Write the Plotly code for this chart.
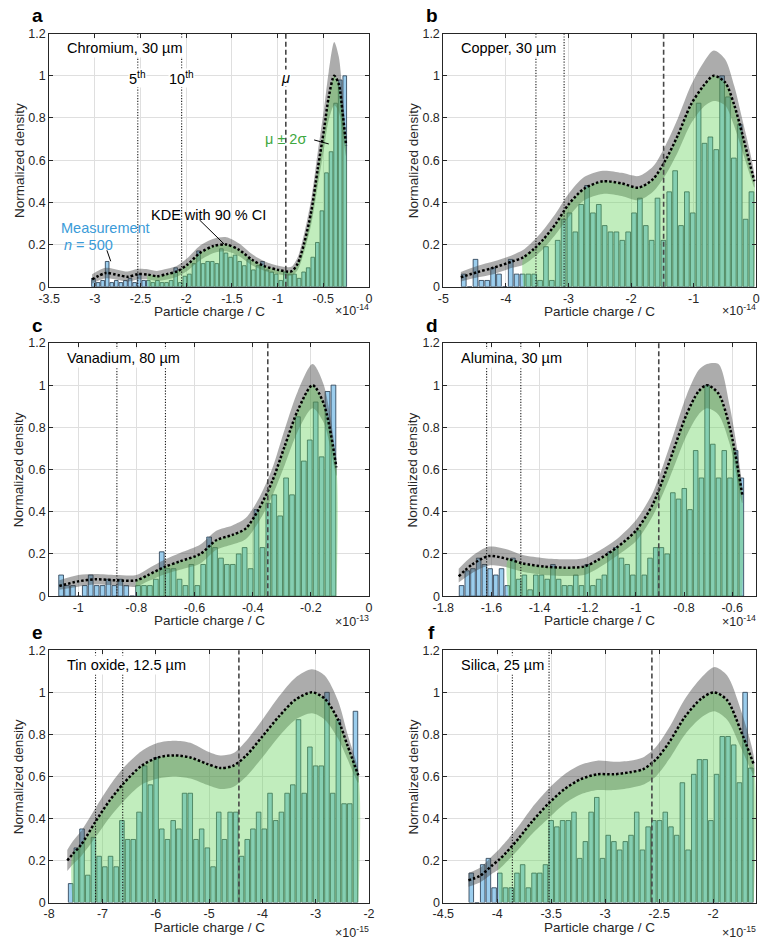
import numpy as np
import plotly.graph_objects as go

W, H = 774, 944
FONT = "Liberation Sans, Arial, Helvetica, sans-serif"

# ------------------------------------------------------------------ data
letters = ["a", "b", "c", "d", "e", "f"]
names = ["Chromium, 30 µm", "Copper, 30 µm", "Vanadium, 80 µm",
         "Alumina, 30 µm", "Tin oxide, 12.5 µm", "Silica, 25 µm"]
exponents = [-14, -14, -13, -14, -15, -15]
x_ranges = [[-3.5, 0], [-5, 0], [-1.1, 0], [-1.8, -0.5], [-8, -2], [-4.5, -1.6]]
x_ticks = [[-3.5, -3, -2.5, -2, -1.5, -1, -0.5, 0],
           [-5, -4, -3, -2, -1, 0],
           [-1, -0.8, -0.6, -0.4, -0.2, 0],
           [-1.8, -1.6, -1.4, -1.2, -1, -0.8, -0.6],
           [-8, -7, -6, -5, -4, -3, -2],
           [-4.5, -4, -3.5, -3, -2.5, -2]]
y_ticks = [0, 0.2, 0.4, 0.6, 0.8, 1, 1.2]
y_ticktext = ["0", "0.2", "0.4", "0.6", "0.8", "1", "1.2"]

# histogram (normalized) : data span and bar heights
hist_span = [(-3.04, -0.24), (-4.72, -0.03), (-1.069, -0.112),
             (-1.736, -0.55), (-7.65, -2.20), (-4.267, -1.624)]
hist_a = [0.04, 0.02, 0.03, 0.12, 0.02, 0.03, 0.02, 0.03, 0.04, 0.02,
          0.06, 0.03, 0.03, 0.02, 0.03, 0.02, 0.02, 0.03, 0.09, 0.02,
          0.05, 0.06, 0.11, 0.17, 0.11, 0.12, 0.12, 0.11, 0.18, 0.16,
          0.14, 0.15, 0.12, 0.10, 0.13, 0.08, 0.10, 0.12, 0.08, 0.07,
          0.06, 0.03, 0.07, 0.06, 0.06, 0.04, 0.07, 0.09, 0.14, 0.21,
          0.36, 0.54, 0.64, 0.87, 0.98, 1.0]
hist_b = [0.06, 0, 0.13, 0.03, 0.03, 0.09, 0.06, 0, 0.13, 0.06,
          0.06, 0.06, 0.06, 0.03, 0.19, 0.03, 0.22, 0.32, 0.35, 0.26,
          0.39, 0.48, 0.35, 0.39, 0.29, 0.26, 0.26, 0.22, 0.26, 0.35,
          0.42, 0.29, 0.22, 0.42, 0.22, 0.45, 0.55, 0.29, 0.45, 0.35,
          0.87, 0.68, 0.71, 0.65, 1.0, 0.90, 0.61, 0.77, 0.32, 0.45]
hist_c = [0.10, 0.05, 0.05, 0.00, 0.05, 0.10, 0.05, 0.05, 0.08, 0.05,
          0.08, 0.05, 0.00, 0.05, 0.05, 0.05, 0.08, 0.21, 0.13, 0.13,
          0.08, 0.05, 0.15, 0.05, 0.15, 0.28, 0.23, 0.18, 0.15, 0.15,
          0.20, 0.23, 0.13, 0.41, 0.23, 0.44, 0.48, 0.38, 0.56, 0.48,
          0.85, 0.64, 0.74, 0.92, 0.66, 0.97, 1.0]
hist_d = [0.05, 0.12, 0.13, 0.18, 0.15, 0.13, 0.10, 0.13, 0.05, 0.18,
          0.08, 0.10, 0.03, 0.10, 0.10, 0.08, 0.15, 0.08, 0.05, 0.05,
          0.10, 0.05, 0.15, 0.05, 0.08, 0.10, 0.21, 0.23, 0.18, 0.15,
          0.10, 0.31, 0.10, 0.18, 0.23, 0.23, 0.20, 0.49, 0.46, 0.51,
          0.41, 0.69, 0.56, 1.0, 0.72, 0.56, 0.69, 0.56, 0.69, 0.56]
hist_e = [0.09, 0.26, 0.35, 0.13, 0.31, 0.22, 0.17, 0.22, 0.17, 0.39,
          0.30, 0.30, 0.43, 0.65, 0.56, 0.69, 0.35, 0.30, 0.39, 0.35,
          0.52, 0.52, 0.30, 0.35, 0.26, 0.17, 0.43, 0.30, 0.43, 0.43,
          0.22, 0.30, 0.35, 0.43, 0.35, 0.52, 0.39, 0.43, 0.52, 0.56,
          0.87, 0.52, 0.74, 0.65, 0.65, 1.0, 0.52, 0.87, 0.47, 0.47, 0.91]
hist_f = [0.14, 0, 0.18, 0.21, 0.07, 0.14, 0.07, 0.07, 0.14, 0.18,
          0.07, 0.14, 0.14, 0.18, 0.39, 0.36, 0.39, 0.39, 0.43, 0.21,
          0.29, 0.43, 0.50, 0.21, 0.32, 0.29, 0.25, 0.29, 0.32, 0.43,
          0.25, 0.36, 0.39, 0.39, 0.43, 0.36, 0.32, 0.57, 0.25, 0.61,
          0.68, 0.68, 0.39, 0.61, 0.79, 0.79, 0.75, 0.57, 1.0, 0.64]

# KDE (normalized) with 90 % CI
kde_x_a = [-3.03, -2.88, -2.74, -2.64, -2.53, -2.42, -2.32, -2.21, -2.1, -1.99,
           -1.85, -1.7, -1.56, -1.42, -1.28, -1.14, -0.99, -0.85, -0.78, -0.71,
           -0.63, -0.56, -0.49, -0.44, -0.38, -0.33, -0.29, -0.25]
kde_a = [0.035, 0.065, 0.055, 0.047, 0.06, 0.058, 0.05, 0.06, 0.073, 0.104,
         0.16, 0.193, 0.20, 0.175, 0.128, 0.097, 0.08, 0.073, 0.11, 0.205,
         0.36, 0.56, 0.75, 0.90, 1.0, 0.96, 0.83, 0.67]
kde_up_a = [0.06, 0.09, 0.08, 0.072, 0.085, 0.083, 0.075, 0.085, 0.10, 0.135,
            0.195, 0.228, 0.235, 0.205, 0.155, 0.12, 0.10, 0.095, 0.14, 0.25,
            0.42, 0.64, 0.85, 1.02, 1.16, 1.09, 0.92, 0.71]
kde_lo_a = [0.015, 0.04, 0.032, 0.025, 0.035, 0.035, 0.028, 0.035, 0.048, 0.075,
            0.125, 0.16, 0.168, 0.145, 0.102, 0.075, 0.06, 0.053, 0.08, 0.165,
            0.30, 0.48, 0.66, 0.79, 0.86, 0.83, 0.73, 0.62]

kde_x_b = [-4.72, -4.45, -4.2, -3.9, -3.72, -3.55, -3.4, -3.2, -3.0, -2.75,
           -2.45, -2.15, -1.88, -1.65, -1.45, -1.25, -1.05, -0.85, -0.68, -0.5,
           -0.35, -0.22, -0.1, -0.03]
kde_b = [0.045, 0.07, 0.09, 0.12, 0.14, 0.18, 0.225, 0.30, 0.39, 0.465,
         0.50, 0.49, 0.47, 0.51, 0.60, 0.72, 0.86, 0.95, 1.0, 0.97,
         0.86, 0.72, 0.58, 0.50]
kde_up_b = [0.07, 0.10, 0.12, 0.15, 0.175, 0.22, 0.27, 0.35, 0.44, 0.52,
            0.55, 0.54, 0.525, 0.57, 0.67, 0.80, 0.95, 1.06, 1.12, 1.08,
            0.95, 0.79, 0.64, 0.53]
kde_lo_b = [0.025, 0.045, 0.06, 0.09, 0.105, 0.14, 0.18, 0.25, 0.33, 0.41,
            0.44, 0.43, 0.41, 0.45, 0.53, 0.64, 0.77, 0.85, 0.88, 0.86,
            0.76, 0.64, 0.53, 0.47]

kde_x_c = [-1.065, -1.0, -0.94, -0.87, -0.80, -0.76, -0.70, -0.65, -0.58, -0.525,
           -0.47, -0.424, -0.38, -0.334, -0.29, -0.245, -0.194, -0.155, -0.112]
kde_c = [0.048, 0.07, 0.08, 0.075, 0.075, 0.10, 0.14, 0.165, 0.20, 0.265,
         0.29, 0.32, 0.41, 0.54, 0.71, 0.88, 1.0, 0.91, 0.61]
kde_up_c = [0.075, 0.10, 0.105, 0.10, 0.10, 0.13, 0.175, 0.205, 0.245, 0.31,
            0.335, 0.37, 0.46, 0.60, 0.79, 0.97, 1.10, 1.0, 0.64]
kde_lo_c = [0.03, 0.045, 0.055, 0.05, 0.045, 0.07, 0.105, 0.125, 0.155, 0.22,
            0.245, 0.27, 0.35, 0.47, 0.62, 0.78, 0.89, 0.82, 0.57]

kde_x_d = [-1.736, -1.68, -1.61, -1.53, -1.47, -1.38, -1.30, -1.215, -1.16, -1.08,
           -1.0, -0.93, -0.86, -0.79, -0.74, -0.705, -0.657, -0.61, -0.558]
kde_d = [0.094, 0.15, 0.19, 0.175, 0.155, 0.14, 0.135, 0.14, 0.17, 0.23,
         0.31, 0.435, 0.64, 0.86, 0.97, 1.0, 0.96, 0.80, 0.48]
kde_up_d = [0.13, 0.19, 0.235, 0.22, 0.195, 0.18, 0.175, 0.18, 0.21, 0.27,
            0.36, 0.49, 0.71, 0.95, 1.07, 1.10, 1.10, 0.90, 0.52]
kde_lo_d = [0.065, 0.11, 0.145, 0.135, 0.115, 0.10, 0.095, 0.10, 0.13, 0.19,
            0.26, 0.38, 0.56, 0.76, 0.86, 0.89, 0.86, 0.72, 0.44]

kde_x_e = [-7.66, -7.56, -7.40, -7.13, -6.88, -6.61, -6.27, -5.96, -5.65, -5.35,
           -5.04, -4.79, -4.55, -4.30, -4.0, -3.69, -3.38, -3.07, -2.83, -2.58,
           -2.40, -2.20]
kde_e = [0.20, 0.23, 0.275, 0.385, 0.48, 0.565, 0.65, 0.69, 0.70, 0.69,
         0.66, 0.64, 0.65, 0.70, 0.79, 0.885, 0.965, 1.0, 0.97, 0.87,
         0.745, 0.605]
kde_up_e = [0.25, 0.29, 0.34, 0.45, 0.55, 0.64, 0.72, 0.76, 0.77, 0.76,
            0.72, 0.70, 0.71, 0.77, 0.87, 0.98, 1.07, 1.11, 1.08, 0.96,
            0.80, 0.63]
kde_lo_e = [0.15, 0.18, 0.22, 0.31, 0.40, 0.48, 0.56, 0.59, 0.60, 0.59,
            0.56, 0.54, 0.55, 0.60, 0.69, 0.79, 0.87, 0.90, 0.87, 0.78,
            0.68, 0.57]

kde_x_f = [-4.267, -4.16, -4.04, -3.98, -3.92, -3.80, -3.68, -3.527, -3.376, -3.225,
           -3.074, -2.92, -2.77, -2.65, -2.53, -2.41, -2.26, -2.11, -1.99, -1.87,
           -1.745, -1.624]
kde_f = [0.106, 0.127, 0.18, 0.205, 0.236, 0.306, 0.384, 0.47, 0.54, 0.587,
         0.61, 0.61, 0.62, 0.634, 0.68, 0.76, 0.884, 0.97, 1.0, 0.963,
         0.82, 0.658]
kde_up_f = [0.14, 0.165, 0.225, 0.255, 0.29, 0.365, 0.45, 0.54, 0.61, 0.655,
            0.675, 0.67, 0.675, 0.69, 0.74, 0.83, 0.97, 1.07, 1.12, 1.08,
            0.92, 0.70]
kde_lo_f = [0.075, 0.095, 0.14, 0.16, 0.19, 0.255, 0.325, 0.40, 0.47, 0.515,
            0.535, 0.535, 0.545, 0.56, 0.60, 0.68, 0.80, 0.88, 0.91, 0.87,
            0.74, 0.61]

# statistics: mu - 2 sigma (start of green region), 5th / 10th percentile, mean
mu_minus_2sd = [-2.42, -3.72, -0.80, -1.53, -7.56, -3.98]
p5 = [-2.53, -3.52, -0.867, -1.62, -7.13, -3.86]
p10 = [-2.05, -3.07, -0.70, -1.478, -6.62, -3.52]
mu = [-0.91, -1.48, -0.348, -0.905, -4.44, -2.567]

hists = [hist_a, hist_b, hist_c, hist_d, hist_e, hist_f]
kde_xs = [kde_x_a, kde_x_b, kde_x_c, kde_x_d, kde_x_e, kde_x_f]
kdes = [kde_a, kde_b, kde_c, kde_d, kde_e, kde_f]
kde_ups = [kde_up_a, kde_up_b, kde_up_c, kde_up_d, kde_up_e, kde_up_f]
kde_los = [kde_lo_a, kde_lo_b, kde_lo_c, kde_lo_d, kde_lo_e, kde_lo_f]

# ------------------------------------------------------------------ styling
BAR_FILL = "rgb(155,205,237)"
BAR_EDGE = "rgb(35,55,75)"
GREY_BAND = "rgba(70,70,70,0.45)"
GREEN_FILL = "rgba(100,210,90,0.40)"
GREEN_TXT = "#3fa83f"
BLUE_TXT = "#3b9bd8"
AX = "#262626"

L = (39, 366)
R = (442, 762)
ROWS = [(27, 284), (341, 598), (653, 909)]
BOXES = [(L, ROWS[0]), (R, ROWS[0]), (L, ROWS[1]), (R, ROWS[1]), (L, ROWS[2]), (R, ROWS[2])]
EXP_OFFSET = [24, 24, 25, 25, 30, 30]


def px(x):
    return x / W


def py(y):
    return 1 - y / H


fig = go.Figure()
annotations = []
shapes = []
layout = {}

for i in range(6):
    n = i + 1
    xa = "x" if n == 1 else f"x{n}"
    ya = "y" if n == 1 else f"y{n}"
    (x0, x1), (y0, y1) = BOXES[i]

    # histogram bars
    lo, hi = hist_span[i]
    h = np.array(hists[i], dtype=float)
    bw = (hi - lo) / len(h)
    centers = lo + (np.arange(len(h)) + 0.5) * bw
    fig.add_trace(go.Bar(x=centers, y=h, width=bw * 0.8, xaxis=xa, yaxis=ya,
                         marker=dict(color=BAR_FILL, line=dict(color=BAR_EDGE, width=0.8)),
                         showlegend=False, hoverinfo="skip"))

    kx = np.array(kde_xs[i], dtype=float)
    ky = np.array(kdes[i], dtype=float)
    ku = np.array(kde_ups[i], dtype=float)
    kl = np.array(kde_los[i], dtype=float)

    # grey 90 % CI band
    fig.add_trace(go.Scatter(x=np.concatenate([kx, kx[::-1]]),
                             y=np.concatenate([ku, kl[::-1]]),
                             xaxis=xa, yaxis=ya, mode="lines", fill="toself",
                             fillcolor=GREY_BAND, line=dict(width=0, shape="spline", smoothing=0.8),
                             showlegend=False, hoverinfo="skip"))

    # green mu +/- 2 sigma region under the KDE
    sel = kx >= mu_minus_2sd[i] - 1e-9
    gx = kx[sel]
    gy = ky[sel]
    fig.add_trace(go.Scatter(x=np.concatenate([[gx[0]], gx, [gx[-1]]]),
                             y=np.concatenate([[0], gy, [0]]),
                             xaxis=xa, yaxis=ya, mode="lines", fill="toself",
                             fillcolor=GREEN_FILL, line=dict(width=0, shape="spline", smoothing=0.8),
                             showlegend=False, hoverinfo="skip"))

    # KDE dotted line
    fig.add_trace(go.Scatter(x=kx, y=ky, xaxis=xa, yaxis=ya, mode="lines",
                             line=dict(color="black", width=2.5, dash="2.5px,2px",
                                       shape="spline", smoothing=0.8),
                             showlegend=False, hoverinfo="skip"))

    # axes
    xt = x_ticks[i]
    layout["xaxis" if n == 1 else f"xaxis{n}"] = dict(
        domain=[px(x0), px(x1)], range=x_ranges[i], anchor=ya,
        tickmode="array", tickvals=xt, ticktext=[format(v, "g") for v in xt],
        ticks="inside", ticklen=4, tickwidth=0.8, tickcolor=AX,
        showline=True, linecolor=AX, linewidth=0.9, mirror="ticks",
        showgrid=True, gridcolor="#dfdfdf", gridwidth=0.8, zeroline=False,
        tickfont=dict(family=FONT, size=12.5, color=AX))
    layout["yaxis" if n == 1 else f"yaxis{n}"] = dict(
        domain=[py(y1), py(y0)], range=[0, 1.2], anchor=xa,
        tickmode="array", tickvals=y_ticks, ticktext=y_ticktext,
        ticks="inside", ticklen=4, tickwidth=0.8, tickcolor=AX,
        showline=True, linecolor=AX, linewidth=0.9, mirror="ticks",
        showgrid=True, gridcolor="#dfdfdf", gridwidth=0.8, zeroline=False,
        tickfont=dict(family=FONT, size=12.5, color=AX))

    # vertical lines
    for xv, dash, col, wd in [(p5[i], "1.2px,1.6px", "#1a1a1a", 1.1),
                              (p10[i], "1.2px,1.6px", "#1a1a1a", 1.1),
                              (mu[i], "5px,3px", "#474747", 1.6)]:
        shapes.append(dict(type="line", xref=xa, yref=f"{ya} domain",
                           x0=xv, x1=xv, y0=0, y1=1,
                           line=dict(color=col, width=wd, dash=dash), layer="above"))

    # panel title
    annotations.append(dict(text=names[i], xref="paper", yref="paper",
                            x=px(x0 + 16), y=py(y0 + 15), xanchor="left", yanchor="middle",
                            showarrow=False, bgcolor="white", borderpad=1,
                            font=dict(family=FONT, size=14.5, color="black")))
    # panel letter
    annotations.append(dict(text=f"<b>{letters[i]}</b>", xref="paper", yref="paper",
                            x=px(x0 - 12), y=py(y0 - 18), xanchor="center", yanchor="middle",
                            showarrow=False, font=dict(family=FONT, size=19, color="black")))
    # axis titles
    annotations.append(dict(text="Particle charge / C", xref="paper", yref="paper",
                            x=px((x0 + x1) / 2), y=py(y1 + 25), xanchor="center", yanchor="middle",
                            showarrow=False, font=dict(family=FONT, size=13.5, color=AX)))
    annotations.append(dict(text="Normalized density", xref="paper", yref="paper",
                            x=px(x0 - 31), y=py((y0 + y1) / 2), xanchor="center", yanchor="middle",
                            textangle=-90, showarrow=False,
                            font=dict(family=FONT, size=13.5, color=AX)))
    annotations.append(dict(text=f"×10<sup>{exponents[i]}</sup>", xref="paper", yref="paper",
                            x=px(x1 + 2), y=py(y1 + EXP_OFFSET[i]), xanchor="right", yanchor="middle",
                            showarrow=False, font=dict(family=FONT, size=12.5, color=AX)))

# ---------------- panel a call-outs
a_txt = [("5<sup>th</sup>", p5[0], 0.99, "center", "black", True),
         ("10<sup>th</sup>", p10[0], 0.99, "center", "black", True),
         ("<i>μ</i>", mu[0], 0.99, "center", "black", True),
         ("μ ± 2σ", -0.68, 0.70, "right", GREEN_TXT, False),
         ("KDE with 90 % CI", -1.755, 0.34, "center", "black", False),
         ("Measurement", -2.88, 0.28, "center", BLUE_TXT, False),
         ("<i>n</i> = 500", -3.07, 0.20, "center", BLUE_TXT, False)]
for t, xv, yv, anc, col, bg in a_txt:
    annotations.append(dict(text=t, xref="x", yref="y", x=xv, y=yv, xanchor=anc,
                            yanchor="middle", showarrow=False,
                            bgcolor="white" if bg else None,
                            borderpad=0, font=dict(family=FONT, size=14.5, color=col)))

pointers = [(-0.60, 0.696, -0.44, 0.677),
            (-1.855, 0.317, -1.581, 0.201),
            (-2.868, 0.173, -2.826, 0.121)]
for xa0, ya0, xa1, ya1 in pointers:
    shapes.append(dict(type="line", xref="x", yref="y", x0=xa0, y0=ya0, x1=xa1, y1=ya1,
                       line=dict(color="black", width=1), layer="above"))

fig.update_layout(width=W, height=H, margin=dict(l=0, r=0, t=0, b=0),
                  paper_bgcolor="white", plot_bgcolor="white",
                  barmode="overlay", showlegend=False,
                  annotations=annotations, shapes=shapes,
                  font=dict(family=FONT), **layout)

fig.write_html("out.html")
